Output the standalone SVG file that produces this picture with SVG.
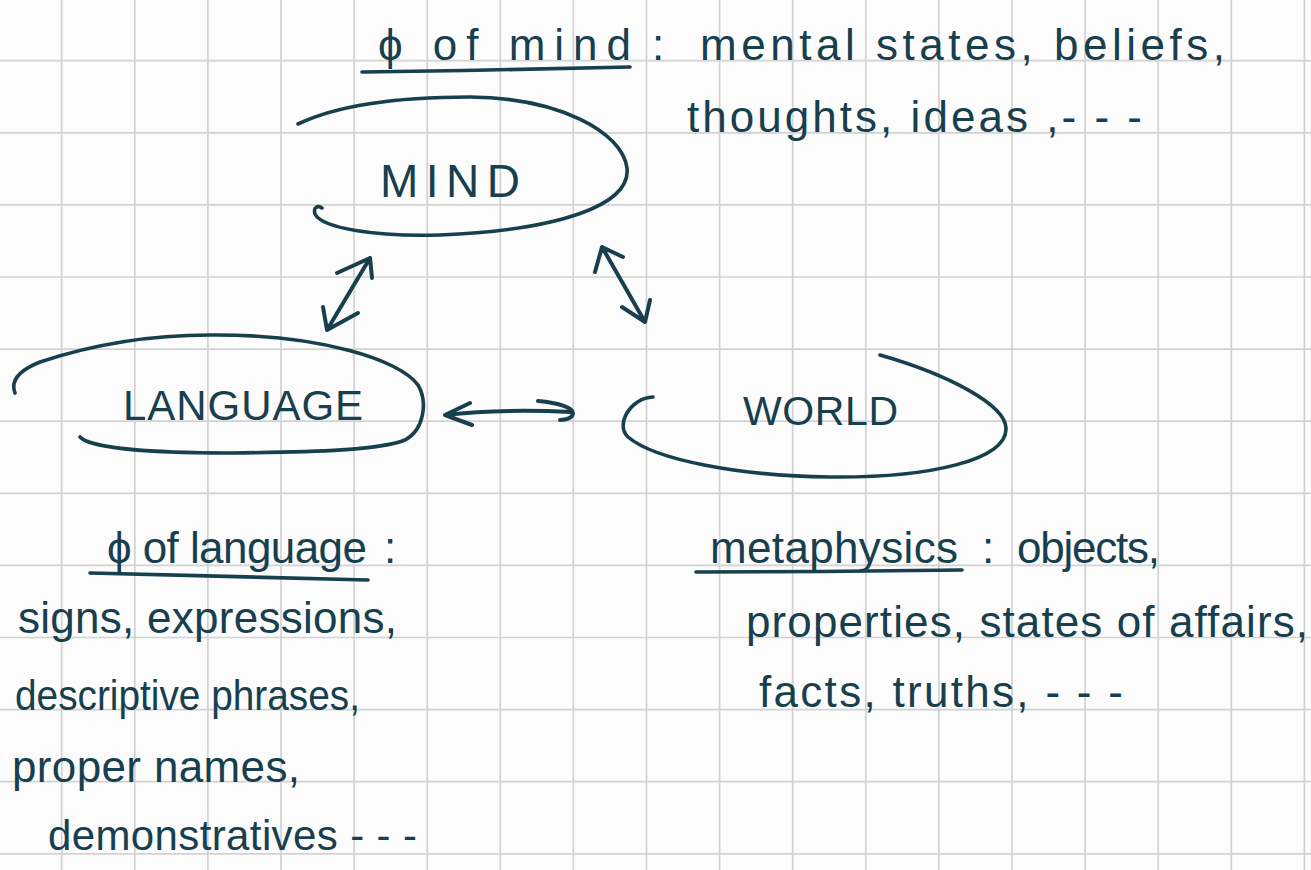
<svg xmlns="http://www.w3.org/2000/svg" width="1311" height="870" viewBox="0 0 1311 870">
<style>
.bg{fill:#fcfcfc}
.grid{stroke:#d2d2d2;stroke-width:1.7;fill:none}
.ink{stroke:#173f4e;stroke-width:3.6;fill:none;stroke-linecap:round;stroke-linejoin:round}
.conn{stroke:#173f4e;stroke-width:4;fill:none;stroke-linecap:round;stroke-linejoin:round}
.lbl{font-family:"Liberation Sans",Arial,sans-serif;font-size:46px;fill:#173f4e}
.note{font-family:"Liberation Sans",Arial,sans-serif;font-size:44px;fill:#173f4e}
</style>
<rect class="bg" x="0" y="0" width="1311" height="870"/>
<path class="grid" d="M61.7,0V870M134.8,0V870M207.9,0V870M281,0V870M354.1,0V870M427.2,0V870M500.3,0V870M573.4,0V870M646.5,0V870M719.6,0V870M792.7,0V870M865.8,0V870M938.9,0V870M1012,0V870M1085.1,0V870M1158.2,0V870M1231.3,0V870M1304.4,0V870M0,60.7H1311M0,132.8H1311M0,204.9H1311M0,277H1311M0,349.1H1311M0,421.2H1311M0,493.3H1311M0,565.4H1311M0,637.5H1311M0,709.6H1311M0,781.7H1311M0,853.8H1311"/>

<g id="note-mind">
<text class="note" x="378" y="60" textLength="253" lengthAdjust="spacing">ϕ of mind</text>
<path class="ink" d="M362,72 C450,71 550,69 630,67"/>
<text class="note" x="652" y="60">:</text>
<text class="note" x="700" y="60" textLength="525" lengthAdjust="spacing">mental states, beliefs,</text>
<text class="note" x="687" y="132" textLength="455" lengthAdjust="spacing">thoughts, ideas ,- - -</text>
</g>

<g id="node-mind">
<path class="ink" d="M298,124 C340,104 400,97 470,97 C560,98 622,132 627,168 C631,205 560,230 440,235 C375,237 322,228 315,214 C313,207 318,205 322,208"/>
<text class="lbl" x="380" y="197" textLength="140" lengthAdjust="spacing">MIND</text>
</g>

<g id="node-language">
<path class="ink" d="M15,393 C10,380 20,370 40,362 C100,342 160,335 210,335 C320,334 400,360 418,385 C428,402 424,430 405,440 C380,450 320,452 230,453 C150,453 90,448 80,437"/>
<text class="lbl" x="123" y="420" style="font-size:42px" textLength="240" lengthAdjust="spacing">LANGUAGE</text>
</g>

<g id="node-world">
<path class="ink" d="M880,355 C950,375 1005,405 1006,428 C1007,460 930,478 830,477 C740,476 655,460 628,437 C615,425 630,398 653,397"/>
<text class="lbl" x="743" y="425" style="font-size:41px" textLength="155" lengthAdjust="spacing">WORLD</text>
</g>

<g id="connectors">
<path class="conn" d="M370,258 L327,330 M337,273 L370,258 L372,278 M323,307 L327,330 L358,313"/>
<path class="conn" d="M602,247 L645,322 M595,272 L602,247 L623,257 M622,307 L645,322 L650,300"/>
<path class="conn" d="M445,415 C480,411 530,410 571,412 M470,403 L445,415 L472,425 M538,401 C560,403 573,408 573,413 C573,418 566,420 560,420"/>
</g>

<g id="note-language">
<text class="note" x="107" y="563" textLength="260" lengthAdjust="spacing">ϕ of language</text>
<path class="ink" d="M90,573 C180,575 280,578 368,580"/>
<text class="note" x="384" y="563">:</text>
<text class="note" x="18" y="633" textLength="379" lengthAdjust="spacing">signs, expressions,</text>
<text class="note" x="15" y="710" style="font-size:42px" textLength="345" lengthAdjust="spacingAndGlyphs">descriptive phrases,</text>
<text class="note" x="12" y="782" textLength="288" lengthAdjust="spacing">proper names,</text>
<text class="note" x="48" y="850" style="font-size:42px" textLength="369" lengthAdjust="spacing">demonstratives - - -</text>
</g>

<g id="note-world">
<text class="note" x="710" y="563" textLength="248" lengthAdjust="spacing">metaphysics</text>
<path class="ink" d="M696,572 C780,572 880,571 962,570"/>
<text class="note" x="982" y="563">:</text>
<text class="note" x="1017" y="563" textLength="143" lengthAdjust="spacing">objects,</text>
<text class="note" x="746" y="637" textLength="562" lengthAdjust="spacing">properties, states of affairs,</text>
<text class="note" x="759" y="707" textLength="364" lengthAdjust="spacing">facts, truths, - - -</text>
</g>
</svg>
